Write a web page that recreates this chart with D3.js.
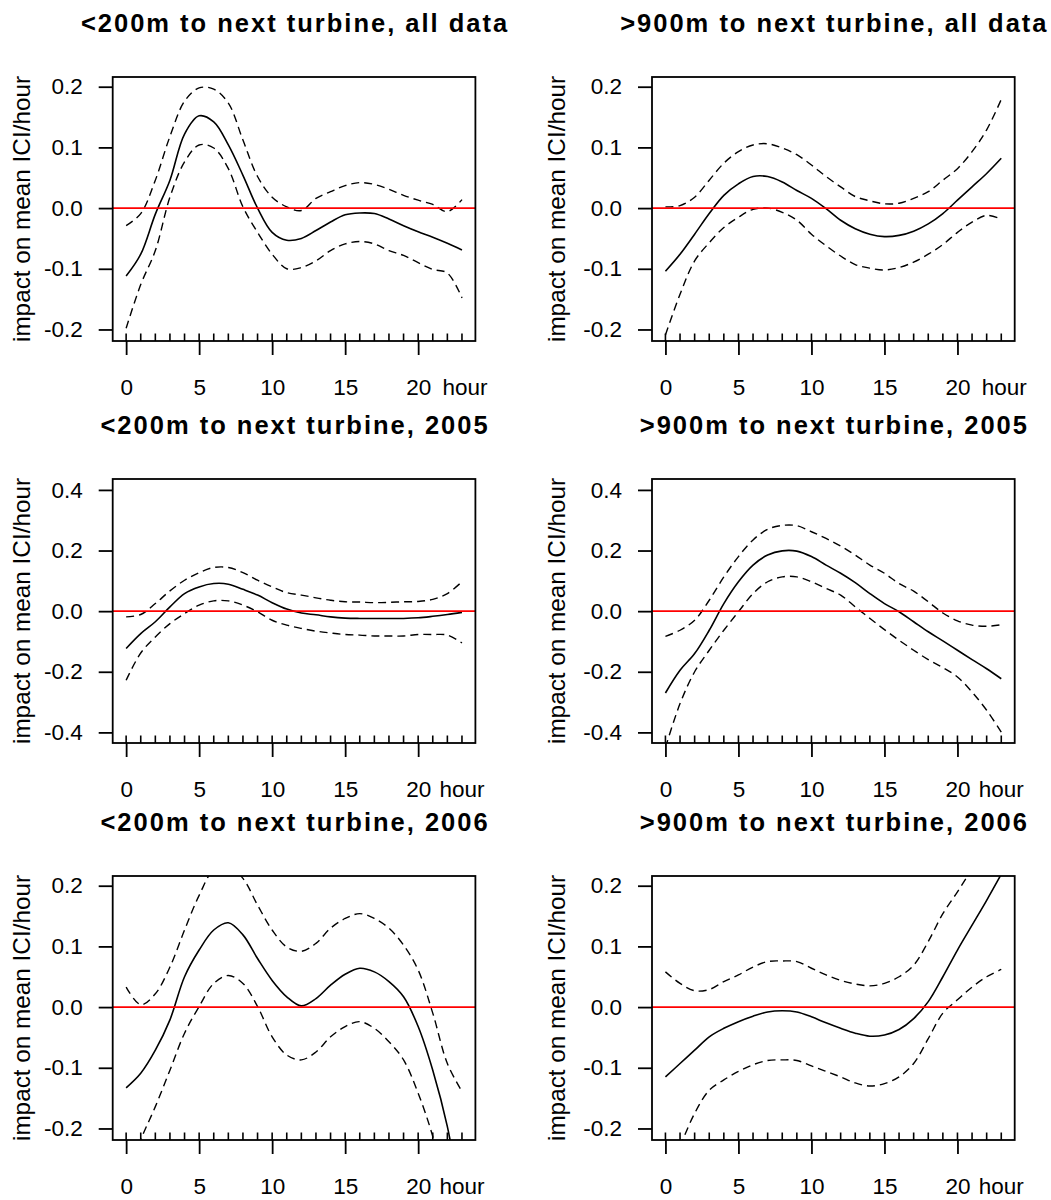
<!DOCTYPE html>
<html>
<head>
<meta charset="utf-8">
<script src="https://cdn.jsdelivr.net/npm/d3@7"></script>
<style>
  body { margin: 0; background: #fff; }
  svg { display: block; font-family: "Liberation Sans", Arial, sans-serif; }
</style>
</head>
<body>
<div id="wrapper"></div>
<script>
// hours of the day (x values of every curve)
const hours = [0, 1, 2, 3, 4, 5, 6, 7, 8, 9, 10, 11, 12, 13, 14, 15, 16, 17, 18, 19, 20, 21, 22, 23];
const xTicks = [0, 5, 10, 15, 20];
const yTicksSmall = [-0.2, -0.1, 0, 0.1, 0.2];
const yTicksLarge = [-0.4, -0.2, 0, 0.2, 0.4];

const titles = [
  "<200m to next turbine, all data", ">900m to next turbine, all data",
  "<200m to next turbine, 2005", ">900m to next turbine, 2005",
  "<200m to next turbine, 2006", ">900m to next turbine, 2006"
];

// <200m, all data
const nearAllFit = [-0.112, -0.076, -0.01, 0.046, 0.122, 0.152, 0.142, 0.104, 0.054, 0.0, -0.04, -0.053, -0.05, -0.037, -0.023, -0.011, -0.008, -0.009, -0.018, -0.029, -0.039, -0.048, -0.058, -0.069];
const nearAllUpper = [-0.029, -0.009, 0.046, 0.118, 0.176, 0.198, 0.196, 0.173, 0.112, 0.052, 0.018, 0.002, -0.004, 0.016, 0.027, 0.037, 0.042, 0.039, 0.031, 0.021, 0.013, 0.006, -0.006, 0.014];
const nearAllLower = [-0.198, -0.126, -0.07, 0.018, 0.076, 0.104, 0.099, 0.065, 0.002, -0.04, -0.076, -0.1, -0.098, -0.087, -0.07, -0.059, -0.055, -0.059, -0.07, -0.078, -0.09, -0.101, -0.107, -0.148];

// >900m, all data
const farAllFit = [-0.104, -0.076, -0.043, -0.009, 0.021, 0.04, 0.052, 0.052, 0.043, 0.029, 0.016, -0.001, -0.02, -0.034, -0.043, -0.047, -0.045, -0.038, -0.026, -0.009, 0.013, 0.035, 0.057, 0.082];
const farAllUpper = [0.002, 0.004, 0.018, 0.046, 0.074, 0.093, 0.104, 0.106, 0.099, 0.088, 0.071, 0.052, 0.035, 0.019, 0.012, 0.007, 0.008, 0.016, 0.027, 0.046, 0.065, 0.093, 0.129, 0.179];
const farAllLower = [-0.209, -0.142, -0.087, -0.057, -0.032, -0.015, -0.002, 0.0, -0.007, -0.02, -0.043, -0.062, -0.079, -0.093, -0.099, -0.102, -0.098, -0.089, -0.076, -0.06, -0.04, -0.023, -0.012, -0.018];

// <200m, 2005
const near05Fit = [-0.123, -0.074, -0.035, 0.014, 0.058, 0.08, 0.091, 0.089, 0.072, 0.053, 0.028, 0.007, -0.006, -0.012, -0.019, -0.023, -0.024, -0.024, -0.024, -0.024, -0.022, -0.017, -0.011, -0.004];
const near05Upper = [-0.019, -0.011, 0.025, 0.067, 0.102, 0.127, 0.144, 0.144, 0.127, 0.102, 0.08, 0.061, 0.053, 0.044, 0.036, 0.031, 0.03, 0.028, 0.029, 0.031, 0.032, 0.039, 0.058, 0.097];
const near05Lower = [-0.228, -0.138, -0.085, -0.041, -0.008, 0.02, 0.034, 0.034, 0.02, -0.002, -0.03, -0.046, -0.057, -0.066, -0.072, -0.077, -0.079, -0.082, -0.082, -0.082, -0.077, -0.077, -0.079, -0.105];

// >900m, 2005
const far05Fit = [-0.27, -0.195, -0.14, -0.063, 0.025, 0.097, 0.152, 0.185, 0.199, 0.198, 0.18, 0.152, 0.125, 0.094, 0.058, 0.025, -0.002, -0.035, -0.068, -0.098, -0.129, -0.16, -0.19, -0.223];
const far05Upper = [-0.083, -0.063, -0.03, 0.036, 0.113, 0.18, 0.235, 0.27, 0.283, 0.282, 0.262, 0.24, 0.215, 0.185, 0.152, 0.125, 0.091, 0.066, 0.031, -0.006, -0.032, -0.046, -0.05, -0.045];
const far05Lower = [-0.45, -0.305, -0.2, -0.129, -0.063, -0.002, 0.058, 0.097, 0.113, 0.113, 0.097, 0.075, 0.053, 0.014, -0.024, -0.061, -0.096, -0.129, -0.16, -0.186, -0.217, -0.267, -0.327, -0.399];

// <200m, 2006
const near06Fit = [-0.133, -0.109, -0.071, -0.021, 0.05, 0.094, 0.127, 0.139, 0.119, 0.08, 0.044, 0.017, 0.002, 0.014, 0.036, 0.054, 0.064, 0.058, 0.042, 0.017, -0.032, -0.104, -0.197, -0.33];
const near06Upper = [0.033, 0.004, 0.022, 0.066, 0.127, 0.184, 0.226, 0.232, 0.212, 0.168, 0.127, 0.099, 0.092, 0.105, 0.13, 0.146, 0.154, 0.146, 0.13, 0.102, 0.061, -0.01, -0.093, -0.139];
const near06Lower = [-0.29, -0.219, -0.164, -0.104, -0.043, 0.001, 0.039, 0.052, 0.039, 0.001, -0.049, -0.079, -0.087, -0.074, -0.049, -0.032, -0.024, -0.035, -0.057, -0.087, -0.142, -0.213, -0.31, -0.43];

// >900m, 2006
const far06Fit = [-0.115, -0.093, -0.071, -0.049, -0.035, -0.024, -0.015, -0.008, -0.006, -0.008, -0.016, -0.026, -0.035, -0.043, -0.048, -0.046, -0.037, -0.019, 0.009, 0.05, 0.094, 0.135, 0.176, 0.219];
const far06Upper = [0.058, 0.039, 0.027, 0.029, 0.042, 0.053, 0.066, 0.075, 0.076, 0.075, 0.064, 0.053, 0.044, 0.038, 0.035, 0.039, 0.05, 0.069, 0.108, 0.154, 0.19, 0.228, 0.27, 0.31];
const far06Lower = [-0.29, -0.23, -0.175, -0.137, -0.12, -0.106, -0.095, -0.088, -0.087, -0.088, -0.097, -0.106, -0.115, -0.125, -0.13, -0.126, -0.115, -0.093, -0.052, -0.01, 0.012, 0.033, 0.05, 0.062];

const panels = [
  { title: titles[0], fit: nearAllFit, upper: nearAllUpper, lower: nearAllLower, row: 0, col: 0 },
  { title: titles[1], fit: farAllFit, upper: farAllUpper, lower: farAllLower, row: 0, col: 1 },
  { title: titles[2], fit: near05Fit, upper: near05Upper, lower: near05Lower, row: 1, col: 0 },
  { title: titles[3], fit: far05Fit, upper: far05Upper, lower: far05Lower, row: 1, col: 1 },
  { title: titles[4], fit: near06Fit, upper: near06Upper, lower: near06Lower, row: 2, col: 0 },
  { title: titles[5], fit: far06Fit, upper: far06Upper, lower: far06Lower, row: 2, col: 1 }
];

const dimensions = {
  width: 1051,
  height: 1200,
  boxWidth: 362.7,
  boxHeight: 264,
  colLeft: [112.7, 652],
  rowTop: [77, 479, 876],
  yLabelX: [30, 565]
};

const svg = d3.select("#wrapper")
  .append("svg")
  .attr("width", dimensions.width)
  .attr("height", dimensions.height);

svg.append("rect").attr("width", dimensions.width).attr("height", dimensions.height).attr("fill", "#fff");

const xScale = d3.scaleLinear()
  .domain([-0.92, 23.92])
  .range([0, dimensions.boxWidth]);

const lineFor = (yScale) => d3.line()
  .x((d, i) => xScale(hours[i]))
  .y((d) => yScale(d))
  .curve(d3.curveCatmullRom.alpha(0.5));

const fmt = (d) => d.toFixed(1);

panels.forEach((p, idx) => {
  const left = dimensions.colLeft[p.col];
  const top = dimensions.rowTop[p.row];
  const yScale = d3.scaleLinear()
    .domain(p.row === 1 ? [-0.435, 0.436] : [-0.219, 0.216])
    .range([dimensions.boxHeight, 0]);
  const yTicks = p.row === 1 ? yTicksLarge : yTicksSmall;

  const g = svg.append("g").attr("transform", `translate(${left},${top})`);

  // title
  g.append("text")
    .attr("x", dimensions.boxWidth / 2 + 1)
    .attr("y", -45)
    .attr("text-anchor", "middle")
    .attr("font-size", 25.5)
    .attr("font-weight", "bold")
    .attr("letter-spacing", 2)
    .text(p.title);

  // y label
  const labelX = dimensions.yLabelX[p.col] - left;
  g.append("text")
    .attr("transform", `translate(${labelX},${dimensions.boxHeight / 2}) rotate(-90)`)
    .attr("text-anchor", "middle")
    .attr("font-size", 24.3)
    .text("impact on mean ICI/hour");

  const clipId = `clip-${idx}`;
  g.append("clipPath").attr("id", clipId)
    .append("rect").attr("width", dimensions.boxWidth).attr("height", dimensions.boxHeight);

  const curves = g.append("g").attr("clip-path", `url(#${clipId})`);
  const line = lineFor(yScale);

  curves.append("path")
    .attr("d", line(p.fit))
    .attr("fill", "none").attr("stroke", "#000").attr("stroke-width", 1.6);
  [p.upper, p.lower].forEach((band) => {
    curves.append("path")
      .attr("d", line(band))
      .attr("fill", "none").attr("stroke", "#000").attr("stroke-width", 1.4)
      .attr("stroke-dasharray", "8,5");
  });

  // zero reference line
  curves.append("line")
    .attr("x1", 0).attr("x2", dimensions.boxWidth)
    .attr("y1", yScale(0)).attr("y2", yScale(0))
    .attr("stroke", "#ff0000").attr("stroke-width", 1.6);

  // rug at each hour
  g.append("g").selectAll("line").data(hours).join("line")
    .attr("x1", (d) => xScale(d)).attr("x2", (d) => xScale(d))
    .attr("y1", dimensions.boxHeight).attr("y2", dimensions.boxHeight - 7.5)
    .attr("stroke", "#000").attr("stroke-width", 1.6);

  // axes
  const yAxis = g.append("g")
    .call(d3.axisLeft(yScale).tickValues(yTicks).tickFormat(fmt).tickSize(14).tickPadding(16));
  const xAxis = g.append("g")
    .attr("transform", `translate(0,${dimensions.boxHeight})`)
    .call(d3.axisBottom(xScale).tickValues(xTicks).tickSize(14));

  [yAxis, xAxis].forEach((ax) => {
    ax.select(".domain").remove();
    ax.selectAll("line").attr("stroke", "#000").attr("stroke-width", 1.8);
    ax.selectAll("text").attr("font-size", 22.5).attr("fill", "#000")
      .attr("font-family", "Liberation Sans, Arial, sans-serif");
  });
  xAxis.selectAll("text").attr("y", 54).attr("dy", 0);

  g.append("text")
    .attr("x", xScale(23) + (p.row === 0 ? 3 : 0))
    .attr("y", dimensions.boxHeight + 54)
    .attr("text-anchor", "middle")
    .attr("font-size", 22.5)
    .text("hour");

  // box
  g.append("rect")
    .attr("width", dimensions.boxWidth).attr("height", dimensions.boxHeight)
    .attr("fill", "none").attr("stroke", "#000").attr("stroke-width", 1.8);
});
</script>
</body>
</html>
